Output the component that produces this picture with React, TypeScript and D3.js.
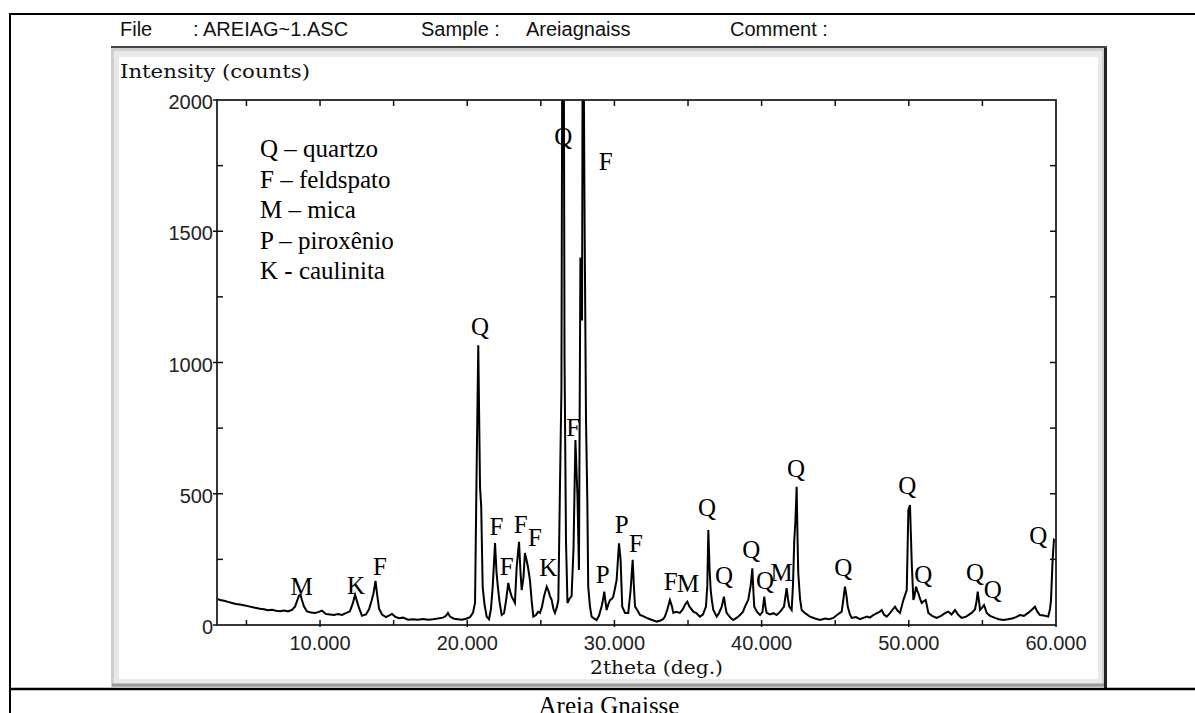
import React from "react";
import * as d3 from "d3";

// ---- data (2theta in degrees, intensity in counts) ----
const twoTheta: number[] = [
  3.00, 3.20, 3.48, 3.75, 4.02, 4.29, 4.56, 4.90, 5.24, 5.58, 5.92, 6.19, 6.46, 6.74, 7.01, 7.28, 7.55, 7.82, 8.10, 8.30,
  8.43, 8.57, 8.67, 8.77, 8.91, 9.11, 9.39, 9.66, 9.93, 10.13, 10.40, 10.68, 10.95, 11.22, 11.49, 11.76, 12.03, 12.24, 12.38, 12.51,
  12.65, 12.85, 13.12, 13.33, 13.50, 13.63, 13.77, 13.87, 14.01, 14.21, 14.48, 14.68, 14.89, 15.09, 15.36, 15.64, 15.98, 16.32, 16.65, 16.99,
  17.33, 17.67, 18.01, 18.35, 18.56, 18.69, 18.83, 19.10, 19.37, 19.64, 19.92, 20.19, 20.39, 20.53, 20.64, 20.75, 20.87, 20.95, 21.05, 21.17,
  21.32, 21.48, 21.61, 21.73, 21.89, 21.99, 22.07, 22.19, 22.34, 22.50, 22.63, 22.79, 22.90, 23.02, 23.14, 23.24, 23.36, 23.52, 23.62, 23.70,
  23.82, 23.92, 24.02, 24.13, 24.26, 24.38, 24.49, 24.67, 24.81, 24.94, 25.08, 25.22, 25.40, 25.52, 25.62, 25.74, 25.86, 25.96, 26.10, 26.19,
  26.30, 26.40, 26.51, 26.61, 26.71, 26.81, 26.95, 27.09, 27.22, 27.35, 27.49, 27.59, 27.69, 27.80, 27.86, 27.97, 28.07, 28.16, 28.22, 28.34,
  28.45, 28.61, 28.79, 28.95, 29.13, 29.22, 29.31, 29.39, 29.47, 29.59, 29.70, 29.83, 29.92, 30.04, 30.15, 30.24, 30.31, 30.42, 30.48, 30.53,
  30.72, 30.94, 31.10, 31.24, 31.33, 31.40, 31.57, 31.74, 31.94, 32.19, 32.42, 32.62, 32.87, 33.10, 33.30, 33.43, 33.60, 33.77, 33.91, 34.00,
  34.18, 34.45, 34.65, 34.82, 34.95, 35.10, 35.36, 35.57, 35.81, 36.01, 36.22, 36.31, 36.38, 36.46, 36.54, 36.63, 36.72, 36.95, 37.10, 37.29,
  37.44, 37.54, 37.62, 37.85, 38.07, 38.32, 38.53, 38.73, 38.87, 39.09, 39.26, 39.37, 39.44, 39.50, 39.69, 39.89, 40.06, 40.18, 40.26, 40.34,
  40.57, 40.81, 41.02, 41.25, 41.52, 41.70, 41.79, 41.88, 42.04, 42.13, 42.22, 42.30, 42.38, 42.44, 42.49, 42.61, 42.72, 42.95, 43.29, 43.63,
  43.97, 44.31, 44.58, 44.87, 45.12, 45.44, 45.56, 45.66, 45.77, 45.85, 46.00, 46.12, 46.41, 46.68, 46.91, 47.16, 47.36, 47.59, 47.84, 48.01,
  48.16, 48.31, 48.50, 48.72, 48.92, 49.06, 49.23, 49.40, 49.63, 49.86, 49.97, 50.08, 50.20, 50.31, 50.39, 50.49, 50.58, 50.65, 50.76, 50.88,
  51.00, 51.15, 51.33, 51.58, 51.89, 52.19, 52.46, 52.68, 52.90, 53.14, 53.34, 53.59, 53.89, 54.27, 54.50, 54.60, 54.68, 54.77, 54.84, 54.97,
  55.11, 55.21, 55.29, 55.52, 55.85, 56.12, 56.42, 56.74, 57.01, 57.28, 57.55, 57.82, 58.11, 58.30, 58.43, 58.57, 58.74, 58.91, 59.18, 59.47,
  59.59, 59.66, 59.77, 59.86, 59.93,
];
const counts: number[] = [
  100, 95, 92, 88, 84, 80, 78, 74, 70, 66, 62, 60, 56, 58, 54, 52, 55, 52, 58, 70,
  90, 112, 116, 95, 70, 52, 48, 46, 50, 55, 42, 40, 38, 42, 38, 45, 52, 85, 115, 90,
  65, 35, 40, 60, 92, 120, 168, 120, 62, 40, 30, 36, 42, 32, 26, 28, 20, 22, 20, 23,
  20, 22, 25, 28, 35, 46, 32, 24, 22, 20, 24, 30, 46, 84, 598, 1066, 526, 450, 145, 80,
  32, 22, 60, 145, 312, 200, 152, 90, 38, 45, 90, 160, 130, 108, 95, 84, 222, 317, 200, 133,
  180, 274, 250, 220, 171, 90, 32, 38, 50, 46, 70, 110, 146, 130, 110, 95, 60, 46, 70, 95,
  522, 900, 3400, 1020, 320, 84, 100, 110, 290, 705, 490, 210, 1400, 1160, 2700, 1570, 780, 470, 146, 70,
  32, 25, 19, 35, 70, 95, 127, 90, 57, 80, 95, 100, 108, 140, 171, 250, 311, 248, 150, 70,
  46, 46, 133, 248, 140, 70, 55, 38, 34, 27, 22, 18, 13, 16, 22, 32, 60, 95, 70, 46,
  50, 46, 60, 80, 89, 70, 51, 45, 32, 40, 70, 150, 362, 220, 133, 90, 57, 32, 45, 70,
  108, 70, 46, 30, 19, 28, 38, 50, 70, 95, 152, 216, 130, 70, 50, 38, 50, 108, 70, 46,
  40, 45, 38, 50, 70, 140, 100, 70, 57, 150, 324, 400, 527, 330, 198, 100, 57, 45, 32, 25,
  19, 25, 22, 27, 38, 51, 100, 146, 110, 70, 40, 27, 30, 22, 27, 32, 28, 38, 45, 50,
  57, 40, 32, 45, 60, 70, 55, 46, 95, 133, 438, 457, 235, 95, 110, 146, 130, 121, 100, 84,
  90, 95, 46, 35, 27, 35, 45, 51, 40, 57, 40, 27, 32, 46, 60, 90, 127, 90, 57, 65,
  76, 60, 46, 35, 27, 22, 19, 22, 25, 30, 38, 35, 46, 55, 62, 70, 50, 38, 36, 32,
  60, 95, 248, 324, 320,
];

// peak labels: mineral letter, 2theta position of label, intensity level of label
const peakLetters: string[] = ["M", "K", "F", "Q", "Q", "F", "F", "F", "F", "F", "F", "K", "P", "P", "F", "F", "M", "Q", "Q", "Q", "Q", "M", "Q", "Q", "Q", "Q", "Q", "Q", "Q"];
const peakDeg: number[] = [8.75, 12.45, 14.07, 20.87, 26.52, 29.41, 27.2, 21.99, 22.68, 23.63, 24.6, 25.5, 29.2, 30.49, 31.47, 33.83, 35.0, 36.3, 37.44, 39.3, 40.23, 41.36, 42.33, 45.55, 49.9, 50.98, 54.5, 55.71, 58.8];
const peakLevel: number[] = [145, 150, 222, 1135, 1860, 1765, 750, 375, 222, 380, 330, 216, 190, 380, 310, 165, 157, 445, 185, 285, 168, 197, 594, 216, 531, 190, 197, 133, 340];

const legendLines: string[] = ["Q \u2013 quartzo", "F \u2013 feldspato", "M \u2013 mica", "P \u2013 pirox\u00eanio", "K - caulinita"];

const xMajorTicks: number[] = [10, 20, 30, 40, 50, 60];
const xAllTicks: number[] = [5, 10, 15, 20, 25, 30, 35, 40, 45, 50, 55];
const yMajorTicks: number[] = [0, 500, 1000, 1500, 2000];
const yAllTicks: number[] = [250, 500, 750, 1000, 1250, 1500, 1750];

export default function App() {
  const W = 1195, H = 713;
  const L = 217, R = 1056, T = 100, B = 625;
  const x = d3.scaleLinear().domain([3, 60]).range([L, R]);
  const y = d3.scaleLinear().domain([0, 2000]).range([B, T]);
  const pts: [number, number][] = twoTheta.map((d, i) => [d, counts[i]]);
  const line = d3.line<[number, number]>().x((d) => x(d[0])).y((d) => y(d[1]));
  const serif = "'Liberation Serif', 'Times New Roman', serif";
  const sans = "'Liberation Sans', Arial, sans-serif";
  const slab = "'DejaVu Serif', serif";

  return (
    <svg width={W} height={H} style={{ position: "absolute", left: 0, top: 0, background: "#fff" }}>
      <defs>
        <clipPath id="plotClip">
          <rect x={L} y={T} width={R - L} height={B - T} />
        </clipPath>
      </defs>
      <rect x={0} y={0} width={W} height={H} fill="#fff" />
      {/* table borders */}
      <line x1={9} x2={W} y1={14} y2={14} stroke="#000" strokeWidth={2} />
      <line x1={10} x2={10} y1={13} y2={H} stroke="#000" strokeWidth={2} />

      {/* header */}
      <g fontFamily={sans} fontSize={20} fill="#111">
        <text x={120} y={36}>File</text>
        <text x={193} y={36}>: AREIAG~1.ASC</text>
        <text x={421} y={36}>Sample :</text>
        <text x={526} y={36}>Areiagnaiss</text>
        <text x={730} y={36}>Comment :</text>
      </g>

      {/* window frame */}
      <rect x={111} y={48} width={996} height={639} fill="#cfcfcf" />
      <rect x={114} y={51} width={988} height={633} fill="#e9e9e9" />
      <rect x={119} y={57} width={979} height={622} fill="#fff" />
      <line x1={111} x2={1107} y1={47} y2={47} stroke="#444" strokeWidth={2} />
      <line x1={1105.5} x2={1105.5} y1={48} y2={688} stroke="#222" strokeWidth={3} />
      <line x1={112} x2={1104} y1={685} y2={685} stroke="#9a9a9a" strokeWidth={3} />
      <line x1={9} x2={W} y1={689} y2={689} stroke="#000" strokeWidth={2.5} />

      {/* axis titles */}
      <text x={120} y={78} fontFamily={slab} fontSize={18} fill="#111" textLength={190} lengthAdjust="spacingAndGlyphs">Intensity (counts)</text>
      <text x={590} y={674} fontFamily={slab} fontSize={18} fill="#111" textLength={133} lengthAdjust="spacingAndGlyphs">2theta (deg.)</text>

      {/* data curve */}
      <path d={line(pts) || ""} fill="none" stroke="#000" strokeWidth={2} clipPath="url(#plotClip)" />

      {/* frame */}
      <rect x={L} y={T} width={R - L} height={B - T} fill="none" stroke="#222" strokeWidth={1.8} />

      {/* ticks */}
      <g stroke="#111" strokeWidth={1.5}>
        {xAllTicks.map((t) => (
          <g key={"xt" + t}>
            <line x1={x(t)} x2={x(t)} y1={B} y2={B - 5} />
            <line x1={x(t)} x2={x(t)} y1={T} y2={T + 6} />
          </g>
        ))}
        {xMajorTicks.map((t) => (
          <line key={"xm" + t} x1={x(t)} x2={x(t)} y1={B} y2={B + 2} />
        ))}
        {yAllTicks.map((t) => (
          <g key={"yt" + t}>
            <line x1={L} x2={L + 6} y1={y(t)} y2={y(t)} />
            <line x1={R} x2={R - 6} y1={y(t)} y2={y(t)} />
          </g>
        ))}
        {yMajorTicks.map((t) => (
          <line key={"ym" + t} x1={L - 4} x2={L} y1={y(t)} y2={y(t)} />
        ))}
      </g>

      {/* tick labels */}
      <g fontFamily={sans} fontSize={20} fill="#222">
        {xMajorTicks.map((t) => (
          <text key={"xl" + t} x={x(t)} y={650} textAnchor="middle">{t.toFixed(3)}</text>
        ))}
        {yMajorTicks.map((t) => (
          <text key={"yl" + t} x={213} y={y(t) + 9} textAnchor="end">{t}</text>
        ))}
      </g>

      {/* legend */}
      <g fontFamily={serif} fontSize={25} fill="#000">
        {legendLines.map((s, i) => (
          <text key={"lg" + i} x={260} y={157 + i * 30.5}>{s}</text>
        ))}
      </g>

      {/* peak labels */}
      <g fontFamily={serif} fontSize={25} fill="#000" textAnchor="middle">
        {peakLetters.map((s, i) => (
          <text key={"pk" + i} x={x(peakDeg[i])} y={y(peakLevel[i]) + 8}>{s}</text>
        ))}
      </g>

      {/* caption */}
      <text x={609} y={714} fontFamily={serif} fontSize={25} fill="#000" textAnchor="middle">Areia Gnaisse</text>
    </svg>
  );
}
